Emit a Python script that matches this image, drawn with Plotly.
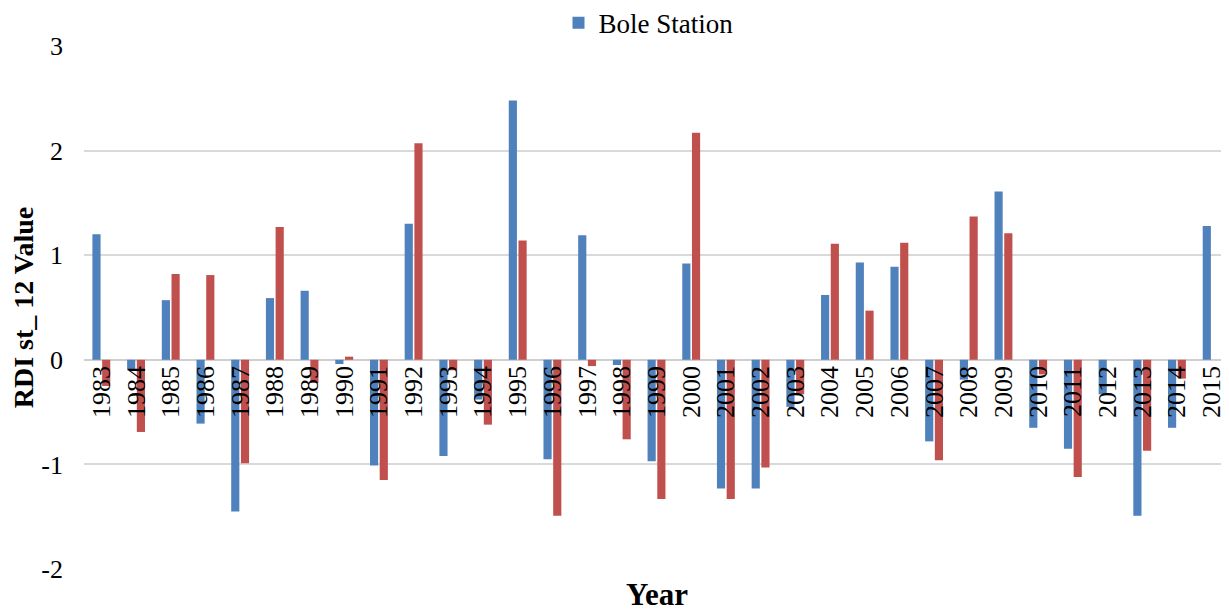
import plotly.graph_objects as go

years = [str(y) for y in range(1983, 2016)]
bole = [1.20, -0.10, 0.57, -0.61, -1.45, 0.59, 0.66, -0.04, -1.01, 1.30,
        -0.92, -0.38, 2.48, -0.95, 1.19, -0.05, -0.97, 0.92, -1.23, -1.23,
        -0.45, 0.62, 0.93, 0.89, -0.78, -0.19, 1.61, -0.65, -0.85, -0.33,
        -1.49, -0.65, 1.28]
second = [-0.25, -0.69, 0.82, 0.81, -0.99, 1.27, -0.22, 0.03, -1.15, 2.07,
          -0.10, -0.62, 1.14, -1.49, -0.06, -0.76, -1.33, 2.17, -1.33, -1.03,
          -0.33, 1.11, 0.47, 1.12, -0.96, 1.37, 1.21, -0.14, -1.12, 0,
          -0.87, -0.18, 0]
y_ticks = [-2, -1, 0, 1, 2, 3]
y_tick_text = ["-2", "-1", "0", "1", "2", "3"]

FONT = "Liberation Serif, Times New Roman, serif"

fig = go.Figure()
fig.add_trace(go.Bar(x=years, y=bole, name="Bole Station",
                     marker=dict(color="#4f81bd", line=dict(width=0))))
fig.add_trace(go.Bar(x=years, y=second, name="", showlegend=False,
                     marker=dict(color="#c0504d", line=dict(width=0))))

fig.update_layout(
    width=1221, height=604,
    margin=dict(l=76, r=0, t=38, b=43, autoexpand=False),
    paper_bgcolor="white", plot_bgcolor="white",
    barmode="group", bargap=0.44, bargroupgap=0.16,
    font=dict(family=FONT, size=26, color="black"),
    showlegend=True,
    legend=dict(orientation="h", x=0.493, xanchor="center", y=0.975, yref="container",
                yanchor="middle", font=dict(size=27), bgcolor="rgba(0,0,0,0)"),
    xaxis=dict(type="category", anchor="free", position=0.4,
               tickangle=-90, showgrid=False, showline=False, ticks="",
               tickfont=dict(size=26), zeroline=False),
    yaxis=dict(range=[-2, 3], tickvals=y_ticks, ticktext=y_tick_text, showgrid=True,
               gridcolor="#d9d9d9", gridwidth=1.5,
               zeroline=True, zerolinecolor="#cfcfcf", zerolinewidth=2,
               showline=False, ticks="", ticklabelstandoff=20,
               tickfont=dict(size=26),
               title=dict(text="<b>RDI st_ 12 Value</b>", font=dict(size=28), standoff=8)),
    annotations=[dict(text="<b>Year</b>", xref="paper", yref="paper", x=0.5, y=0,
                      yshift=-25, xanchor="center", yanchor="middle", showarrow=False,
                      font=dict(size=31, family=FONT))],
)

fig.write_html("out.html")
